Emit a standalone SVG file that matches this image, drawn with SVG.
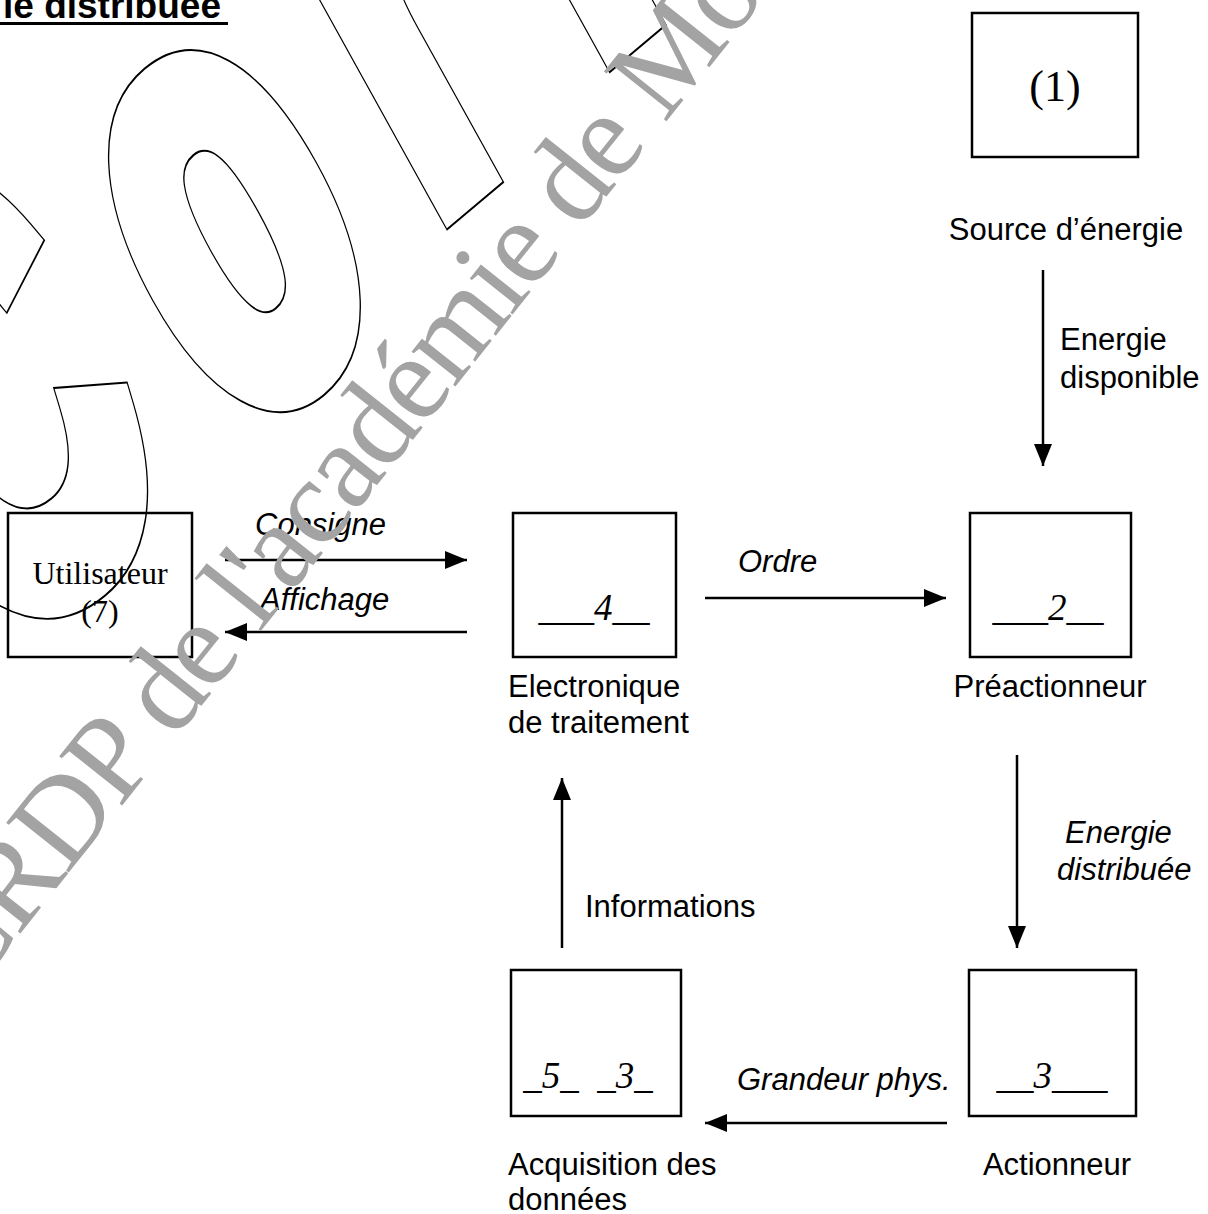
<svg xmlns="http://www.w3.org/2000/svg" width="1208" height="1214" viewBox="0 0 1208 1214">
<style>
.box{fill:none;stroke:#000;stroke-width:2.5}
.lbl{font-family:"Liberation Sans",Arial,sans-serif;font-size:31px;fill:#000}
.it{font-style:italic}
.ser{font-family:"Liberation Serif","Times New Roman",serif;fill:#000}
.num{font-family:"Liberation Serif","Times New Roman",serif;font-style:italic;font-size:37px;fill:#000}
.conn{stroke:#000;stroke-width:2.5;fill:none}
.wm{font-family:"Liberation Serif","Times New Roman",serif;font-size:122px;letter-spacing:-3px;fill:#a3a3a3}
.outl{font-family:"Liberation Sans",Arial,sans-serif;font-weight:bold;font-size:590px}
.outl-k{fill:#000;stroke:#000;stroke-width:44}
.outl-w{fill:#fff;stroke:#fff;stroke-width:40}
</style>
<defs>
<marker id="ah" markerUnits="userSpaceOnUse" markerWidth="22" markerHeight="18" refX="22" refY="9" orient="auto">
<path d="M0,0 L22,9 L0,18 z" fill="#000"/>
</marker>
</defs>
<rect width="1208" height="1214" fill="#fff"/>
<g id="watermark-outline" class="outl">
<text class="outl-k" transform="translate(3,662) rotate(-40) skewX(-11) scale(0.6,1)"><tspan x="-23" y="-12">C</tspan><tspan x="518" y="-25">o</tspan><tspan x="995" y="-67">r</tspan><tspan x="1366" y="-83">r</tspan></text>
<text class="outl-w" transform="translate(3,662) rotate(-40) skewX(-11) scale(0.6,1)"><tspan x="-23" y="-12">C</tspan><tspan x="518" y="-25">o</tspan><tspan x="995" y="-67">r</tspan><tspan x="1366" y="-83">r</tspan></text>
</g>
<g id="title">
<text x="3" y="18" font-family="'Liberation Sans',Arial,sans-serif" font-weight="bold" font-size="37">ie distribuée</text>
<rect x="0" y="22" width="228" height="3" fill="#000"/>
</g>
<g id="connectors">
<line class="conn" x1="1043" y1="270" x2="1043" y2="466" marker-end="url(#ah)"/>
<line class="conn" x1="225" y1="560" x2="467" y2="560" marker-end="url(#ah)"/>
<line class="conn" x1="467" y1="632" x2="225" y2="632" marker-end="url(#ah)"/>
<line class="conn" x1="705" y1="598" x2="946" y2="598" marker-end="url(#ah)"/>
<line class="conn" x1="1017" y1="755" x2="1017" y2="948" marker-end="url(#ah)"/>
<line class="conn" x1="562" y1="948" x2="562" y2="778" marker-end="url(#ah)"/>
<line class="conn" x1="947" y1="1123" x2="705" y2="1123" marker-end="url(#ah)"/>
<text class="lbl" x="1060" y="350">Energie</text>
<text class="lbl" x="1060" y="388">disponible</text>
<text class="lbl it" x="255" y="535">Consigne</text>
<text class="lbl it" x="260" y="610">Affichage</text>
<text class="lbl it" x="738" y="572">Ordre</text>
<text class="lbl it" x="1065" y="843">Energie</text>
<text class="lbl it" x="1057" y="880">distribuée</text>
<text class="lbl" x="585" y="917">Informations</text>
<text class="lbl it" x="737" y="1090">Grandeur phys.</text>
</g>
<g id="node-source">
<rect class="box" x="972" y="13" width="166" height="144"/>
<text class="ser" x="1055" y="101" font-size="44" text-anchor="middle">(1)</text>
<text class="lbl" x="1066" y="240" text-anchor="middle">Source d’énergie</text>
</g>
<g id="node-utilisateur">
<rect class="box" x="8" y="513" width="184" height="144"/>
<text class="ser" x="100" y="584" font-size="32" text-anchor="middle">Utilisateur</text>
<text class="ser" x="100" y="622" font-size="32" text-anchor="middle">(7)</text>
</g>
<g id="node-electronique">
<rect class="box" x="513" y="513" width="163" height="144"/>
<text class="num" x="594" y="620" text-anchor="middle">___4__</text>
<text class="lbl" x="508" y="697">Electronique</text>
<text class="lbl" x="508" y="733">de traitement</text>
</g>
<g id="node-preactionneur">
<rect class="box" x="970" y="513" width="161" height="144"/>
<text class="num" x="1048" y="620" text-anchor="middle">___2__</text>
<text class="lbl" x="1050" y="697" text-anchor="middle">Préactionneur</text>
</g>
<g id="node-acquisition">
<rect class="box" x="511" y="970" width="170" height="146"/>
<text class="num" x="588" y="1088" text-anchor="middle" xml:space="preserve">_5_  _3_</text>
<text class="lbl" x="508" y="1175">Acquisition des</text>
<text class="lbl" x="508" y="1210">données</text>
</g>
<g id="node-actionneur">
<rect class="box" x="969" y="970" width="167" height="146"/>
<text class="num" x="1052" y="1088" text-anchor="middle">__3___</text>
<text class="lbl" x="1057" y="1175" text-anchor="middle">Actionneur</text>
</g>
<g id="watermark-text">
<text class="wm" transform="translate(-31,998) rotate(-51.5)">CRDP de l'académie de Montpellier</text>
</g>
</svg>
